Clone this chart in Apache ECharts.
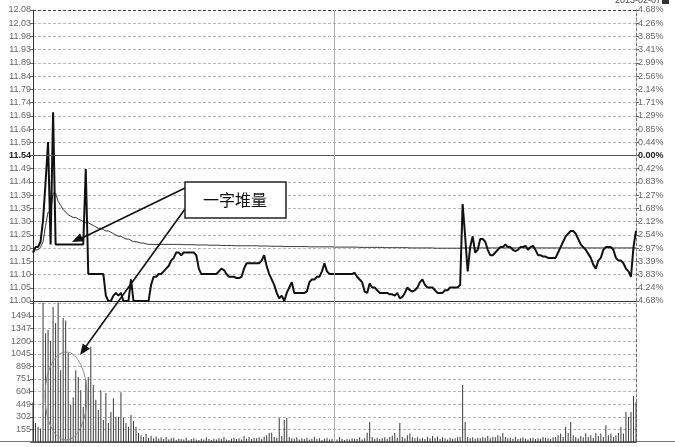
<!DOCTYPE html>
<html>
<head>
<meta charset="utf-8">
<script src="https://cdn.jsdelivr.net/npm/echarts@6/dist/echarts.min.js"></script>
<style>
html,body{margin:0;padding:0;background:#fff;}
#c{width:675px;height:447px;}
</style>
</head>
<body>
<div id="c"></div>
<script>
// ---- data ----
const minutes = [];
for (let i = 0; i < 241; i++) minutes.push(i);

const priceTicks = ['11.00','11.05','11.10','11.15','11.20','11.25','11.30','11.35','11.39','11.44','11.49','11.54',
  '11.59','11.64','11.69','11.74','11.79','11.84','11.89','11.93','11.98','12.03','12.08'];
const pctTicks = ['4.68%','4.24%','3.83%','3.39%','2.97%','2.54%','2.12%','1.68%','1.27%','0.83%','0.42%','0.00%',
  '0.44%','0.85%','1.29%','1.71%','2.14%','2.56%','2.99%','3.41%','3.85%','4.26%','4.68%'];
const volTicks = ['155','302','449','604','751','898','1045','1200','1347','1494'];

const price = [
  11.18,11.20,11.20,11.22,11.30,11.44,11.59,11.21,11.70,11.21,
  11.21,11.21,11.21,11.21,11.21,11.21,11.21,11.21,11.21,11.21,
  11.21,11.49,11.10,11.10,11.10,11.10,11.10,11.10,11.10,11.02,
  11.00,11.00,11.02,11.03,11.02,11.03,11.00,11.00,11.00,11.08,
  11.00,11.00,11.00,11.00,11.00,11.00,11.00,11.06,11.09,11.09,
  11.10,11.10,11.11,11.12,11.13,11.15,11.16,11.18,11.18,11.17,
  11.18,11.18,11.18,11.18,11.18,11.17,11.12,11.10,11.10,11.10,
  11.10,11.10,11.10,11.10,11.11,11.12,11.115,11.10,11.09,11.09,
  11.09,11.085,11.085,11.09,11.12,11.14,11.14,11.14,11.14,11.14,
  11.14,11.15,11.17,11.13,11.10,11.08,11.06,11.03,11.01,11.02,
  11.00,11.03,11.05,11.07,11.03,11.03,11.03,11.03,11.03,11.035,
  11.07,11.08,11.08,11.09,11.09,11.11,11.14,11.11,11.10,11.10,
  11.10,11.10,11.10,11.10,11.10,11.10,11.10,11.10,11.105,11.09,
  11.08,11.07,11.035,11.03,11.065,11.05,11.05,11.04,11.03,11.03,
  11.03,11.03,11.025,11.025,11.02,11.03,11.01,11.015,11.03,11.05,
  11.04,11.035,11.04,11.05,11.07,11.08,11.06,11.05,11.05,11.05,
  11.04,11.03,11.03,11.03,11.04,11.04,11.05,11.05,11.05,11.05,
  11.06,11.36,11.24,11.11,11.20,11.24,11.18,11.19,11.23,11.23,
  11.22,11.19,11.17,11.17,11.18,11.19,11.20,11.20,11.21,11.20,
  11.20,11.19,11.185,11.19,11.20,11.20,11.205,11.19,11.20,11.205,
  11.19,11.17,11.17,11.165,11.165,11.16,11.16,11.16,11.16,11.18,
  11.20,11.22,11.24,11.25,11.26,11.26,11.25,11.23,11.21,11.20,
  11.19,11.175,11.16,11.135,11.12,11.15,11.16,11.19,11.20,11.20,
  11.20,11.19,11.16,11.15,11.15,11.14,11.12,11.11,11.09,11.20,
  11.26
];

const avgPrice = [
  11.18,11.19,11.19,11.20,11.22,11.28,11.33,11.33,11.40,11.40,
  11.37,11.355,11.34,11.33,11.32,11.315,11.31,11.31,11.305,11.30,
  11.295,11.29,11.29,11.285,11.28,11.275,11.27,11.27,11.265,11.26,
  11.26,11.255,11.25,11.245,11.24,11.24,11.235,11.23,11.23,11.225,
  11.22,11.22,11.218,11.215,11.215,11.212,11.21,11.21,11.21,11.21,
  11.21,11.21,11.21,11.21,11.21,11.21,11.21,11.21,11.21,11.21,
  11.209,11.209,11.209,11.209,11.209,11.208,11.208,11.208,11.208,11.208,
  11.207,11.207,11.207,11.207,11.207,11.206,11.206,11.206,11.206,11.206,
  11.205,11.205,11.205,11.205,11.205,11.205,11.205,11.205,11.205,11.205,
  11.204,11.204,11.204,11.204,11.204,11.203,11.203,11.203,11.203,11.203,
  11.202,11.202,11.202,11.202,11.202,11.202,11.202,11.202,11.202,11.202,
  11.201,11.201,11.201,11.201,11.201,11.201,11.201,11.201,11.201,11.201,
  11.20,11.20,11.20,11.20,11.20,11.20,11.20,11.20,11.20,11.20,
  11.199,11.199,11.199,11.199,11.199,11.199,11.199,11.199,11.199,11.199,
  11.198,11.198,11.198,11.198,11.198,11.198,11.198,11.198,11.198,11.198,
  11.197,11.197,11.197,11.197,11.197,11.197,11.197,11.197,11.197,11.197,
  11.196,11.196,11.196,11.196,11.196,11.196,11.196,11.196,11.196,11.196,
  11.196,11.197,11.197,11.197,11.197,11.197,11.197,11.197,11.197,11.197,
  11.197,11.197,11.197,11.197,11.197,11.197,11.197,11.197,11.197,11.197,
  11.197,11.197,11.197,11.197,11.197,11.197,11.197,11.197,11.197,11.197,
  11.197,11.197,11.197,11.197,11.197,11.197,11.197,11.197,11.197,11.197,
  11.197,11.197,11.197,11.197,11.197,11.197,11.197,11.197,11.197,11.197,
  11.197,11.197,11.197,11.197,11.197,11.197,11.197,11.197,11.197,11.197,
  11.197,11.197,11.197,11.197,11.197,11.197,11.197,11.197,11.197,11.197,
  11.197
];

const volume = [
  475,225,180,160,1650,1290,1330,1200,1600,1410,
  1650,850,1470,1440,1055,440,530,850,770,615,
  415,735,770,1130,675,500,380,615,260,580,
  225,355,520,300,300,590,285,225,180,320,
  250,180,107,80,60,95,50,70,45,65,
  40,55,35,60,30,45,50,25,40,35,
  30,50,20,35,45,30,25,40,30,55,
  35,25,40,30,45,35,60,30,25,40,
  50,35,45,30,70,40,60,35,50,45,
  55,40,65,80,107,110,60,50,285,70,
  260,285,60,45,40,55,30,45,35,50,
  30,40,60,35,45,25,40,50,30,35,
  45,30,60,40,25,35,30,45,40,35,
  55,30,45,110,237,60,40,50,35,45,
  55,40,60,75,107,50,225,60,45,80,
  100,60,45,55,40,50,35,60,45,70,
  50,65,40,55,45,30,50,40,45,55,
  60,675,237,60,45,55,40,50,45,60,
  50,70,45,60,55,80,65,107,60,45,
  50,40,60,35,45,55,40,30,45,50,
  35,45,40,60,50,45,35,55,60,80,
  100,60,180,107,237,80,60,45,70,55,
  100,60,80,50,107,70,100,60,200,80,
  100,60,80,107,180,100,355,300,355,545,
  475
];

// ---- chart ----
const chart = echarts.init(document.getElementById('c'), null, {renderer: 'canvas'});
const pMin = 11.00, pMax = 12.08, pStep = (pMax - pMin) / 22;
const vStep = 149.4, vMax = 1672;
const lblFont = 'Liberation Sans, Arial, sans-serif';

function pIdx(v) { return Math.round((v - pMin) / pStep); }

function arrowHead(x1, y1, x2, y2, len, half) {
  const dx = x2 - x1, dy = y2 - y1, L = Math.sqrt(dx*dx + dy*dy);
  const ux = dx / L, uy = dy / L, nx = -uy, ny = ux;
  const bx = x2 - ux * len, by = y2 - uy * len;
  return [[x2, y2], [bx + nx * half, by + ny * half], [bx - nx * half, by - ny * half]];
}

const gridLine = {show: true, lineStyle: {color: '#b5b5b5', type: [3, 2], width: 1}};

const option = {
  animation: false,
  backgroundColor: '#fff',
  grid: [
    {left: 33, right: 39, top: 10, height: 291},
    {left: 33, right: 39, top: 301, height: 141}
  ],
  xAxis: [
    {type: 'category', gridIndex: 0, data: minutes, boundaryGap: false,
     axisLine: {show: true, lineStyle: {color: '#333', width: 1}},
     axisTick: {show: false}, axisLabel: {show: false}, splitLine: {show: false}},
    {type: 'category', gridIndex: 1, data: minutes, boundaryGap: false,
     axisLine: {show: true, lineStyle: {color: '#555', width: 1}},
     axisTick: {show: false}, axisLabel: {show: false}, splitLine: {show: false}}
  ],
  yAxis: [
    {type: 'value', gridIndex: 0, min: pMin, max: pMax, interval: pStep, position: 'left',
     axisLine: {show: true, lineStyle: {color: '#333', width: 1}},
     axisTick: {show: true, length: 3, lineStyle: {color: '#666'}},
     axisLabel: {margin: 2, fontSize: 9, color: '#666', fontFamily: lblFont,
       formatter: function (v) { const i = pIdx(v); const t = priceTicks[i] || ''; return i === 11 ? '{b|' + t + '}' : t; },
       rich: {b: {fontSize: 9, fontWeight: 'bold', color: '#222', fontFamily: lblFont}}},
     splitLine: gridLine},
    {type: 'value', gridIndex: 0, min: pMin, max: pMax, interval: pStep, position: 'right',
     axisLine: {show: true, lineStyle: {color: '#777', width: 1, type: [3, 2]}},
     axisTick: {show: true, length: 3, lineStyle: {color: '#666'}},
     axisLabel: {margin: 2, fontSize: 9, color: '#666', fontFamily: lblFont,
       formatter: function (v) { const i = pIdx(v); const t = pctTicks[i] || ''; return i === 11 ? '{b|' + t + '}' : t; },
       rich: {b: {fontSize: 9, fontWeight: 'bold', color: '#222', fontFamily: lblFont}}},
     splitLine: {show: false}},
    {type: 'value', gridIndex: 1, min: 0, max: vMax, interval: vStep, position: 'left',
     axisLine: {show: true, lineStyle: {color: '#333', width: 1}},
     axisTick: {show: true, length: 3, lineStyle: {color: '#666'}},
     axisLabel: {margin: 2, fontSize: 9, color: '#666', fontFamily: lblFont,
       formatter: function (v) {
         const k = Math.round(v / vStep);
         if (k < 1 || k > 10 || Math.abs(v - k * vStep) > 1) return '';
         return volTicks[k - 1];
       }},
     splitLine: gridLine},
    {type: 'value', gridIndex: 1, min: 0, max: vMax, interval: vStep, position: 'right',
     axisLine: {show: true, lineStyle: {color: '#777', width: 1, type: [3, 2]}},
     axisTick: {show: false}, axisLabel: {show: false}, splitLine: {show: false}}
  ],
  series: [
    {name: 'avg', type: 'line', xAxisIndex: 0, yAxisIndex: 0, data: avgPrice,
     showSymbol: false, smooth: false, z: 3,
     lineStyle: {color: '#333', width: 1}},
    {name: 'price', type: 'line', xAxisIndex: 0, yAxisIndex: 0, data: price,
     showSymbol: false, smooth: false, z: 4,
     lineStyle: {color: '#111', width: 2},
     markLine: {silent: true, symbol: 'none', label: {show: false}, animation: false,
       data: [
         {yAxis: 11.54, lineStyle: {color: '#555', type: 'solid', width: 1}},
         {yAxis: 12.08, lineStyle: {color: '#444', type: [3, 2], width: 1}},
         {xAxis: 120, lineStyle: {color: '#aaa', type: 'solid', width: 1}}
       ]}},
    {name: 'vol', type: 'bar', xAxisIndex: 1, yAxisIndex: 2, data: volume,
     barWidth: 1, itemStyle: {color: '#3a3a3a'},
     markLine: {silent: true, symbol: 'none', label: {show: false}, animation: false,
       data: [{xAxis: 120, lineStyle: {color: '#aaa', type: 'solid', width: 1}}]}}
  ],
  graphic: [
    {type: 'line', shape: {x1: 0, y1: 441.5, x2: 675, y2: 441.5}, style: {stroke: '#777', lineWidth: 1}, z: 1},
    {type: 'text', right: 14, top: -4, style: {text: '2013-02-07', fontSize: 9, fill: '#444', fontFamily: lblFont}},
    {type: 'rect', shape: {x: 662, y: -3, width: 7, height: 7}, style: {fill: '#333'}},
    {type: 'ellipse', shape: {cx: 66, cy: 396, rx: 21, ry: 44}, style: {stroke: '#888', fill: null, lineWidth: 1}, z: 10},
    {type: 'line', shape: {x1: 185, y1: 188, x2: 80, y2: 239}, style: {stroke: '#111', lineWidth: 1.6}, z: 10},
    {type: 'polygon', shape: {points: arrowHead(185, 188, 72, 242, 11, 4.5)}, style: {fill: '#111'}, z: 10},
    {type: 'line', shape: {x1: 185, y1: 209, x2: 84, y2: 349}, style: {stroke: '#111', lineWidth: 1.6}, z: 10},
    {type: 'polygon', shape: {points: arrowHead(185, 209, 80, 355, 11, 4.5)}, style: {fill: '#111'}, z: 10},
    {type: 'rect', shape: {x: 185, y: 182, width: 101, height: 36}, style: {fill: '#fff', stroke: '#222', lineWidth: 1.5}, z: 11},
    {type: 'text', x: 235, y: 200, style: {text: '一字堆量', fontSize: 16, fill: '#111', align: 'center', verticalAlign: 'middle',
      fontFamily: 'Noto Sans CJK SC, sans-serif'}, z: 12}
  ]
};
chart.setOption(option);
</script>
</body>
</html>
